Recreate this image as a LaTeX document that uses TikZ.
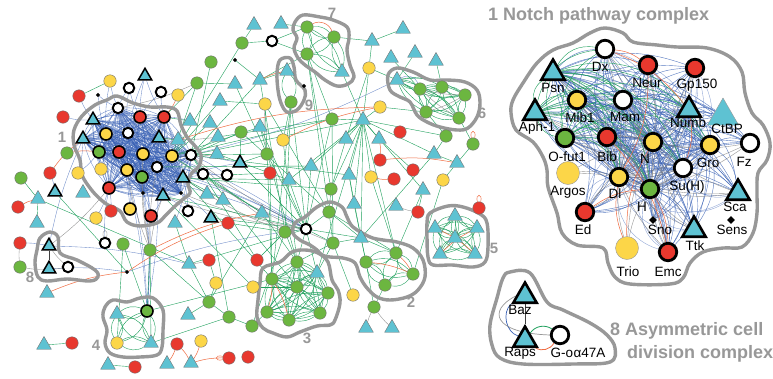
\documentclass[tikz,border=0pt]{standalone}
\usepackage{fontspec}
\setmainfont{Liberation Sans}
\usetikzlibrary{shapes.geometric}
\definecolor{ngreen}{RGB}{108,182,64}
\definecolor{nred}{RGB}{232,56,46}
\definecolor{nyellow}{RGB}{252,214,72}
\definecolor{ncyan}{RGB}{94,194,210}
\definecolor{hullgray}{RGB}{152,152,152}
\definecolor{eblue}{RGB}{58,98,182}
\definecolor{egreen}{RGB}{30,160,92}
\definecolor{eorange}{RGB}{240,108,66}
\definecolor{egray}{RGB}{125,125,125}
\pgfdeclarelayer{back}
\pgfdeclarelayer{edges}
\pgfdeclarelayer{hulls}
\pgfsetlayers{back,edges,hulls,main}
\tikzset{
  sm/.style={circle, draw=black!55, line width=0.4pt, minimum size=12.5pt, inner sep=0pt},
  gc/.style={sm, fill=ngreen},
  rc/.style={sm, fill=nred},
  yc/.style={sm, fill=nyellow},
  gk/.style={gc, draw=black, line width=1.6pt, minimum size=12pt},
  rk/.style={rc, draw=black, line width=1.6pt, minimum size=12pt},
  yk/.style={yc, draw=black, line width=1.6pt, minimum size=12pt},
  wc/.style={circle, draw=black, line width=2pt, fill=white, minimum size=10.5pt, inner sep=0pt},
  tri/.style={regular polygon, regular polygon sides=3, draw=black!55, line width=0.4pt, fill=ncyan, minimum size=17pt, inner sep=0pt},
  dtri/.style={tri, draw=black, line width=1.5pt, minimum size=15.5pt},
  dia/.style={diamond, fill=black, minimum size=4.5pt, inner sep=0pt},
  big/.style={circle, draw=black, line width=2.8pt, minimum size=17.5pt, inner sep=0pt},
  bgr/.style={big, fill=ngreen}, brd/.style={big, fill=nred}, byl/.style={big, fill=nyellow}, bwh/.style={big, fill=white},
  bpale/.style={circle, draw=black!40, line width=0.4pt, fill=nyellow, minimum size=23pt, inner sep=0pt},
  btri/.style={regular polygon, regular polygon sides=3, draw=black, line width=2.6pt, fill=ncyan, minimum size=27pt, inner sep=0pt},
  ptri/.style={regular polygon, regular polygon sides=3, draw=black!40, line width=0.4pt, fill=ncyan, minimum size=36pt, inner sep=0pt},
  bdia/.style={diamond, fill=black, minimum size=8pt, inner sep=0pt},
  lbl/.style={font=\fontsize{13.5}{14}\selectfont, inner sep=0pt},
  ttl/.style={font=\fontsize{18}{20}\selectfont\bfseries, text=hullgray, inner sep=0pt},
  num/.style={font=\fontsize{15}{16}\selectfont\bfseries, text=hullgray, inner sep=0pt},
  hull/.style={draw=hullgray, line width=3.4pt, line join=round},
  eb/.style={draw=eblue, line width=0.35pt, opacity=0.75},
  eg/.style={draw=egreen, line width=0.4pt},
  eo/.style={draw=eorange, line width=0.5pt},
  ey/.style={draw=egray, line width=0.4pt, opacity=0.8},
}
% every ordered pair of a list, bent, so each pair gives a lens
\newcommand{\netpairs}[3]{\foreach \pa in {#3}{\foreach \pb in {#3}{\ifx\pa\pb\else\draw[#1] (\pa) to[bend left=#2] (\pb);\fi}}}
\begin{document}
\begin{tikzpicture}[x=1pt,y=1pt]
\begin{pgfonlayer}{back}
\fill[white] (0,0) rectangle (773,-378);
\end{pgfonlayer}
\useasboundingbox (0,0) rectangle (773,-378);

% ---------------- whole network: complex 1 core
\node[wc] (c1) at (118,-108) {};
\node[rk] (c2) at (140,-117) {};
\node[rk] (c3) at (164,-117) {};
\node[dtri] (c4) at (93,-120) {};
\node[dtri] (c5) at (83,-139) {};
\node[yk] (c6) at (106,-134) {};
\node[wc] (c7) at (128,-133) {};
\node[dtri] (c8) at (159,-138) {};
\node[gk] (c9) at (99,-152) {};
\node[rk] (c10) at (119,-152) {};
\node[yk] (c11) at (143,-154) {};
\node[yk] (c12) at (172,-156) {};
\node[wc] (c13) at (191,-155) {};
\node[wc] (c14) at (157,-167) {};
\node[yk] (c15) at (127,-170) {};
\node[gk] (c16) at (142,-177) {};
\node[dtri] (c17) at (183,-178) {};
\node[rk] (c18) at (109,-188) {};
\node[dia] (c19) at (143,-193) {};
\node[dtri] (c20) at (163,-196) {};
\node[dia] (c21) at (181,-193) {};
% neighbours of complex 1
\node[yc] (a1) at (110,-81) {};
\node[wc] (a2) at (129,-88) {};
\node[dtri] (a3) at (145,-76) {};
\node[wc] (a4) at (161,-92) {};
\node[yc] (a5) at (178,-95) {};
\node[rc] (a6) at (79,-96) {};
\node[dia] (a7) at (98,-95) {};
\node[rc] (a8) at (63,-117) {};
\node[gc] (a9) at (67,-153) {};
\node[yc] (a10) at (78,-173) {};
\node[yc] (a11) at (101,-169) {};
\node[rc] (a12) at (50,-173) {};
\node[dtri] (a13) at (55,-192) {};
\node[tri] (a14) at (83,-193) {};
\node[gc] (a15) at (21,-178) {};
\node[tri] (a16) at (38,-199) {};
\node[wc] (a17) at (203,-174) {};
\node[wc] (a18) at (227,-175) {};
\node[dtri] (a19) at (240,-163) {};
\node[tri] (a20) at (190,-121) {};
\node[tri] (a21) at (210,-123) {};
\node[tri] (a22) at (218,-137) {};
\node[tri] (a23) at (178,-140) {};
\node[tri] (a24) at (217,-154) {};
\node[tri] (a25) at (207,-194) {};
\node[tri] (a26) at (223,-200) {};
\node[gc] (a27) at (197,-83) {};
\node[tri] (a28) at (235,-84) {};
\node[tri] (a29) at (220,-101) {};
\node[gc] (a30) at (241,-132) {};
\node[gc] (a31) at (211,-62) {};
\node[gc] (a32) at (242,-43) {};
\node[tri] (a33) at (254,-25) {};
\node[dia] (a34) at (235,-60) {};
\node[wc] (a37) at (188,-211) {};
\node[rk] (a38) at (151,-216) {};
\node[yk] (a39) at (130,-209) {};
\node[rc] (a40) at (111,-211) {};
\node[yc] (a41) at (96,-218) {};
\node[dtri] (a42) at (211,-218) {};
\node[rc] (a43) at (228,-223) {};
\node[tri] (a44) at (175,-223) {};
\node[rc] (a45) at (18,-207) {};
\node[tri] (a46) at (37,-223) {};
% lower left
\node[wc] (b1) at (105,-243) {};
\node[gc] (b2) at (123,-244) {};
\node[gc] (b3) at (150,-250) {};
\node[dia] (b4) at (127,-272) {};
\node[tri] (b5) at (189,-264) {};
\node[rc] (b6) at (209,-260) {};
\node[yc] (b7) at (216,-283) {};
\node[gc] (b8) at (209,-302) {};
\node[tri] (b9) at (188,-315) {};
\node[gc] (b10) at (229,-317) {};
\node[gc] (b11) at (252,-326) {};
\node[yc] (b12) at (253,-287) {};
\node[rc] (b13) at (257,-260) {};
\node[tri] (b14) at (44,-345) {};
\node[rc] (b15) at (72,-343) {};
\node[tri] (b16) at (108,-365) {};
\node[rc] (b17) at (135,-367) {};
\node[rc] (b18) at (177,-344) {};
\node[yc] (b19) at (201,-341) {};
\node[tri] (b20) at (167,-364) {};
\node[tri] (b21) at (191,-363) {};
\node[rc] (b22) at (229,-358) {};
\node[rc] (b23) at (248,-357) {};
% complex 8
\node[dtri] (e1) at (49,-246) {};
\node[dtri] (e2) at (49,-269) {};
\node[wc] (e3) at (68,-267) {};
\node[rc] (e4) at (20,-243) {};
\node[gc] (e5) at (20,-267) {};
\node[tri] (e6) at (47,-293) {};
% complex 4
\node[gk] (f1) at (147,-311) {};
\node[tri] (f2) at (117,-314) {};
\node[yc] (f3) at (117,-343) {};
\node[tri] (f4) at (151,-343) {};
% upper middle
\node[tri] (g1) at (281,-24) {};
\node[wc] (g2) at (272,-41) {};
\node[tri] (g3) at (260,-80) {};
\node[yc] (g4) at (265,-104) {};
\node[tri] (g5) at (260,-127) {};
\node[yc] (g6) at (283,-140) {};
\node[gc] (g7) at (267,-154) {};
\node[rc] (g8) at (270,-173) {};
\node[tri] (g9) at (289,-180) {};
\node[tri] (g10) at (311,-166) {};
\node[gc] (g11) at (331,-189) {};
\node[tri] (g12) at (349,-175) {};
\node[gc] (g13) at (332,-119) {};
\node[tri] (g14) at (363,-120) {};
\node[tri] (g15) at (346,-139) {};
\node[tri] (g16) at (379,-139) {};
\node[yc] (g17) at (380,-107) {};
\node[rc] (g18) at (400,-132) {};
\node[rc] (g19) at (380,-160) {};
\node[rc] (g20) at (394,-179) {};
\node[rc] (g21) at (413,-170) {};
\node[yc] (g22) at (371,-177) {};
\node[tri] (g23) at (372,-41) {};
\node[tri] (g24) at (403,-29) {};
\node[yc] (g25) at (369,-68) {};
\node[tri] (g26) at (391,-58) {};
\node[tri] (g27) at (415,-53) {};
\node[tri] (g28) at (436,-61) {};
\node[gc] (g29) at (446,-136) {};
\node[gc] (g30) at (473,-144) {};
\node[tri] (g31) at (434,-154) {};
\node[tri] (g32) at (457,-163) {};
\node[yc] (g33) at (443,-180) {};
\node[tri] (g34) at (423,-190) {};
\node[tri] (g35) at (396,-206) {};
\node[rc] (g36) at (418,-212) {};
\node[tri] (g37) at (354,-204) {};
\node[tri] (g38) at (262,-213) {};
% complexes 7 and 9
\node[gc] (h1) at (307,-27) {};
\node[gc] (h2) at (334,-37) {};
\node[gc] (h3) at (307,-54) {};
\node[tri] (h4) at (342,-72) {};
\node[tri] (i1) at (287,-71) {};
\node[gc] (i2) at (291,-102) {};
\node[dia] (i3) at (304,-86) {};
% complex 6
\node[tri] (j1) at (397,-80) {};
\node[gc] (j2) at (420,-89) {};
\node[gc] (j3) at (442,-87) {};
\node[gc] (j4) at (465,-95) {};
\node[gc] (j5) at (426,-112) {};
\node[gc] (j6) at (459,-118) {};
% complex 2
\node[wc] (k1) at (306,-229) {};
\node[gc] (k2) at (329,-212) {};
\node[gc] (k3) at (333,-243) {};
\node[tri] (k4) at (361,-238) {};
\node[gc] (k5) at (366,-262) {};
\node[gc] (k6) at (396,-253) {};
\node[gc] (k7) at (413,-274) {};
\node[gc] (k8) at (385,-285) {};
\node[gc] (k9) at (285,-232) {};
\node[yc] (k10) at (353,-295) {};
\node[gc] (k11) at (374,-307) {};
\node[tri] (k12) at (366,-328) {};
\node[tri] (k13) at (392,-328) {};
% complex 3
\node[gc] (l1) at (297,-262) {};
\node[gc] (l2) at (272,-279) {};
\node[gc] (l3) at (297,-287) {};
\node[gc] (l4) at (328,-293) {};
\node[gc] (l5) at (267,-312) {};
\node[gc] (l6) at (289,-320) {};
\node[gc] (l7) at (320,-313) {};
\node[tri] (l8) at (317,-273) {};
% complex 5
\node[tri] (m1) at (455,-216) {};
\node[tri] (m2) at (435,-228) {};
\node[tri] (m3) at (477,-228) {};
\node[tri] (m4) at (455,-238) {};
\node[tri] (m5) at (440,-254) {};
\node[tri] (m6) at (475,-254) {};
\node[rc] (m7) at (479,-208) {};

% ---------------- Notch pathway complex
\node[bwh] (dx) at (605,-49) {};
\node[brd] (neur) at (648,-65) {};
\node[brd] (gp) at (695,-68) {};
\node[btri] (psn) at (553,-73) {};
\node[byl] (mib) at (577,-100) {};
\node[bwh] (mam) at (623,-100) {};
\node[btri] (numb) at (689,-110) {};
\node[ptri] (ctbp) at (723,-116) {};
\node[btri] (aph) at (535,-113) {};
\node[bgr] (ofut) at (565,-138) {};
\node[brd] (bib) at (607,-137) {};
\node[byl] (nn) at (653,-142) {};
\node[byl] (gro) at (710,-145) {};
\node[bwh] (fz) at (750,-143) {};
\node[bpale] (argos) at (568,-173) {};
\node[bwh] (suh) at (683,-168) {};
\node[byl] (dl) at (619,-177) {};
\node[bgr] (hh) at (650,-189) {};
\node[btri] (sca) at (738,-193) {};
\node[brd] (ed) at (585,-212) {};
\node[bdia] (sno) at (653,-220) {};
\node[btri] (ttk) at (694,-230) {};
\node[bdia] (sens) at (731,-220) {};
\node[bpale] (trio) at (627,-248) {};
\node[brd] (emc) at (668,-252) {};
\node[lbl] (ldx) at (600,-67) {Dx};
\node[lbl] (lneur) at (647,-83) {Neur};
\node[lbl] (lgp) at (697,-85) {Gp150};
\node[lbl] (lpsn) at (553,-88) {Psn};
\node[lbl] (lmib) at (580,-118) {Mib1};
\node[lbl] (lmam) at (625,-117) {Mam};
\node[lbl] (lnumb) at (688,-123) {Numb};
\node[lbl] (lctbp) at (727,-129) {CtBP};
\node[lbl] (laph) at (537,-128) {Aph-1};
\node[lbl] (lofut) at (567,-157) {O-fut1};
\node[lbl] (lbib) at (607,-157) {Bib};
\node[lbl] (lnn) at (645,-159) {N};
\node[lbl] (lgro) at (708,-163) {Gro};
\node[lbl] (lfz) at (744,-162) {Fz};
\node[lbl] (largos) at (568,-192) {Argos};
\node[lbl] (lsuh) at (687,-187) {Su(H)};
\node[lbl] (ldl) at (615,-194) {Dl};
\node[lbl] (lhh) at (642,-207) {H};
\node[lbl] (lsca) at (735,-207) {Sca};
\node[lbl] (led) at (583,-230) {Ed};
\node[lbl] (lsno) at (660,-230) {Sno};
\node[lbl] (lttk) at (695,-246) {Ttk};
\node[lbl] (lsens) at (732,-230) {Sens};
\node[lbl] (ltrio) at (628,-272) {Trio};
\node[lbl] (lemc) at (668,-272) {Emc};

% ---------------- asymmetric cell division complex
\node[btri] (baz) at (525,-296) {};
\node[btri] (raps) at (525,-340) {};
\node[bwh] (goa) at (560,-335) {};
\node[lbl] (lbaz) at (520,-310) {Baz};
\node[lbl] (lraps) at (520,-353) {Raps};
\node[lbl] (lgoa) at (578,-353) {G-o\kern0.5pt α47A};

% ---------------- titles and complex numbers
\node[ttl, anchor=base west] (tnotch) at (488,-20) {1 Notch pathway complex};
\node[ttl, anchor=base west] (tasym1) at (610,-335) {8 Asymmetric cell};
\node[ttl, anchor=base west] (tasym2) at (627,-358) {division complex};
\node[num] (n1) at (62,-137) {1};
\node[num] (n2) at (411,-302) {2};
\node[num] (n3) at (307,-338) {3};
\node[num] (n4) at (96,-345) {4};
\node[num] (n5) at (494,-248) {5};
\node[num] (n6) at (482,-113) {6};
\node[num] (n7) at (332,-13) {7};
\node[num] (n8) at (30,-277) {8};
\node[num] (n9) at (309,-105) {9};

% ---------------- hulls round the complexes
\begin{pgfonlayer}{hulls}
\draw[hull] plot[smooth cycle, tension=0.6] coordinates {(107,-100) (117,-96) (133,-103) (150,-107) (167,-107) (177,-111) (181,-125) (187,-137) (195,-146) (201,-155) (199,-166) (191,-174) (188,-184) (190,-193) (182,-200) (174,-207) (165,-216) (157,-223) (140,-226) (127,-222) (120,-211) (108,-205) (99,-198) (90,-188) (82,-175) (80,-160) (74,-145) (74,-130) (82,-116) (95,-105)};
\draw[hull] plot[smooth cycle, tension=0.6] coordinates {(295,-22) (303,-15) (320,-17) (333,-20) (347,-27) (349,-38) (347,-50) (350,-65) (354,-77) (348,-84) (337,-86) (325,-80) (315,-72) (305,-65) (298,-58) (294,-48) (297,-38) (293,-30)};
\draw[hull] plot[smooth cycle, tension=0.6] coordinates {(280,-60) (290,-58) (294,-67) (296,-80) (305,-90) (304,-100) (297,-110) (287,-112) (281,-103) (278,-90) (277,-73)};
\draw[hull] plot[smooth cycle, tension=0.6] coordinates {(388,-75) (397,-68) (413,-72) (430,-80) (447,-80) (465,-82) (477,-90) (480,-103) (477,-117) (468,-128) (457,-130) (440,-127) (427,-122) (417,-115) (410,-102) (400,-97) (390,-90)};
\draw[hull] plot[smooth cycle, tension=0.6] coordinates {(430,-213) (448,-206) (463,-207) (480,-214) (487,-223) (488,-247) (485,-262) (473,-267) (452,-265) (433,-265) (428,-257) (427,-237) (427,-223)};
\draw[hull] plot[smooth cycle, tension=0.6] coordinates {(295,-223) (305,-217) (317,-207) (330,-202) (342,-207) (347,-217) (353,-227) (370,-237) (383,-240) (397,-242) (413,-248) (423,-260) (425,-277) (418,-290) (407,-297) (390,-300) (377,-297) (367,-288) (360,-277) (355,-263) (343,-258) (330,-257) (322,-255) (317,-250) (310,-245) (300,-240) (293,-233)};
\draw[hull] plot[smooth cycle, tension=0.6] coordinates {(263,-268) (280,-262) (292,-252) (305,-250) (318,-253) (328,-262) (332,-280) (338,-290) (340,-303) (335,-320) (330,-325) (317,-326) (300,-332) (287,-337) (273,-333) (263,-328) (257,-317) (258,-300) (260,-283)};
\draw[hull] plot[smooth cycle, tension=0.6] coordinates {(105,-307) (113,-300) (127,-302) (140,-298) (153,-298) (163,-310) (163,-330) (162,-347) (157,-355) (140,-357) (123,-357) (110,-353) (105,-343) (107,-330) (103,-317)};
\draw[hull] plot[smooth cycle, tension=0.6] coordinates {(40,-238) (50,-232) (58,-237) (60,-253) (77,-260) (95,-270) (98,-277) (90,-281) (67,-279) (47,-281) (38,-277) (35,-263) (37,-250)};
\draw[hull] plot[smooth cycle, tension=0.6] coordinates {(590,-33) (605,-28) (623,-33) (633,-42) (657,-45) (677,-47) (707,-48) (730,-57) (742,-72) (745,-93) (752,-113) (763,-125) (770,-143) (767,-160) (758,-173) (757,-193) (757,-213) (753,-233) (742,-247) (723,-248) (703,-252) (690,-263) (683,-278) (670,-284) (630,-284) (615,-277) (608,-263) (603,-248) (577,-245) (562,-233) (557,-213) (548,-187) (547,-170) (543,-157) (533,-142) (516,-130) (511,-113) (513,-100) (523,-83) (537,-63) (553,-50) (573,-43)};
\draw[hull] plot[smooth cycle, tension=0.6] coordinates {(510,-272) (530,-273) (547,-302) (563,-310) (590,-323) (607,-335) (615,-348) (610,-362) (573,-364) (523,-364) (500,-358) (492,-345) (490,-325) (497,-298) (503,-278)};
\end{pgfonlayer}

% ---------------- interactions
\begin{pgfonlayer}{edges}
% inside the complexes
\netpairs{eb}{12}{c1,c2,c3,c4,c5,c6,c7,c8,c9,c10,c11,c12,c13,c14,c15,c16,c17,c18,c19,c20,c21}
\netpairs{eg}{25}{h1,h2,h3,h4}
\netpairs{eg}{20}{j1,j2,j3,j4,j5,j6}
\netpairs{eg}{25}{m1,m2,m3,m4,m5,m6}
\netpairs{eg}{30}{k5,k6,k7,k8}
\netpairs{eg}{20}{l1,l2,l3,l4,l5,l6,l7,l8}
\netpairs{eg}{30}{f1,f2,f3,f4}
\netpairs{eg}{35}{i1,i2}
% blue
\foreach \pa/\pb in {c4/a6,c4/a8,c1/a7,c6/a7,c1/a1,c6/a1,c1/a2,c7/a2,c2/a2,c2/a3,c3/a3,c7/a3,c3/a4,c2/a4,
  c12/a17,c13/a17,c14/a17,c17/a18,c13/a18,c17/a19,c12/a19,c18/a41,c18/a40,c15/a39,c10/a39,c16/a38,c20/a38,
  c19/a38,c20/a37,c21/a37,c17/a37,c21/a42,c5/a9,c9/a10,c5/a10,c6/a11,c9/a11,c10/a11,c16/f1,c15/f1,c11/f1,
  c14/f1,c10/f1,c19/f1,c16/k1,c14/k1,c12/k1,c17/k1,c11/k1,c13/a44,e1/c5,e2/b4,e1/b5,b1/c18,e4/e1,a12/a13,
  b4/k1,c7/a23,c8/a23,c3/a20,j1/c13}
  {\draw[eb] (\pa) to[bend left=6] (\pb);}
\draw[eb] (j1) to[bend left=50] (j2);
% grey
\foreach \pa/\pb in {c16/b3,c15/b3,c14/b3,c20/b3,c11/b3,c21/k1,c13/k1,c20/k1,c17/k9,c13/k9,c12/k3,e1/c18,
  e4/e5,e5/e2,e2/e3,e1/e3,b5/b6,g35/g36,k11/k12,k11/k13,g4/g7,j2/j6,j5/j4,j2/j4,c1/a27,c8/a22,c12/a24}
  {\draw[ey] (\pa) to[bend right=6] (\pb);}
\draw[draw=black!75, line width=0.5pt] (e1) -- (e2);
% green
\foreach \pa/\pb in {a6/a1,a15/a16,a16/a46,a13/b4,a33/a32,a32/c12,a31/c13,a27/c3,a27/c12,a28/a27,a34/g3,
  a29/c12,a20/c3,a21/c12,a22/c13,a23/c8,a24/c13,a25/c17,a26/c17,a30/c13,a30/a19,c13/g3,c12/g5,c13/g7,
  c17/g9,c14/g10,c12/g13,c13/g14,c17/g11,c13/g12,c20/k1,a19/g7,a18/g8,a17/g38,a42/k1,a43/k9,g1/h1,g2/h1,
  g2/h3,g3/h3,g23/h2,g23/g25,g24/g23,h4/g14,h3/g13,h3/k2,i1/g3,i2/k9,i2/g6,g25/g14,g25/g15,g17/g14,
  g13/g14,g14/g15,g14/g16,g14/g11,g14/g9,g14/g10,g14/g12,g14/k4,g14/k6,g14/g34,g14/l8,g14/g37,g14/g22,
  g14/g31,g16/g21,g15/g11,g12/g37,g37/k5,g22/k6,j2/g26,j3/g28,j1/g27,j5/g17,j5/g29,j6/g30,j1/g25,
  g29/g31,g31/g32,g31/k4,g32/g33,g34/g36,g30/g32,g29/g14,g34/k6,k1/k2,k1/k3,k1/k9,k1/k4,k2/k3,k2/k4,
  k3/k4,k3/l8,k3/l1,k11/k5,k11/k8,k10/k3,k1/l1,k1/l8,k9/l1,g5/k1,g7/k1,g9/k1,g10/k1,g13/k1,g11/k2,
  g12/k4,g4/l2,g6/l1,f1/l2,f4/b10,b2/f1,b3/f1,b3/f4,b2/f3,b8/b9,b8/b10,b10/b11,b11/l5,b14/b15,b16/b17,
  b12/l3,b13/k9,a16/b5,a44/b5,b5/k1,g8/l2,g38/l1,b6/b7,b7/b8,g33/k7,b3/b8,i2/k1,k4/k5,k4/k6,k2/k6,
  c13/l3,c17/l2,c12/g38,a30/k2,a19/k1,g5/l1,g3/k9,g13/k3,h3/g11,i2/l2,a28/g7,a29/g4,a32/g2,
  c13/b13,c20/b12,a42/b10,g38/b8,b5/b8,k9/b11,a24/g9,a22/g13,g4/k2}
  {\draw[eg] (\pa) -- (\pb);}
% orange
\foreach \pa/\pb in {a12/c5,a5/c3,a45/a16,a9/c9,a23/g17,g3/i1,g6/g17,g16/g19,g19/g32,g20/g22,e6/b4,
  b4/a43,b3/g38,b18/b20,b18/b21,b19/b21,b21/b22,k6/k7,k5/k7,l2/l5,l2/l6,m2/m6,m5/m3}
  {\draw[eo] (\pa) to[bend left=8] (\pb);}
\draw[eo] (h1) to[bend left=50] (h2);
\draw[eo] (b22) to[loop left, min distance=9pt] (b22);
\draw[eo] (g30) to[loop above, min distance=9pt] (g30);
\draw[eo] (m7) to[loop above, min distance=9pt] (m7);
\draw[ey] (b1) to[loop above, min distance=9pt] (b1);

% Notch complex interactions
\foreach \pa in {nn,dl,hh,suh,mam,bib,mib,psn,numb,gro}{
  \foreach \pb in {dx,neur,gp,psn,mib,mam,numb,ctbp,aph,ofut,bib,nn,gro,fz,suh,dl,hh,sca,ed,sno,ttk,emc}{
    \ifx\pa\pb\else\draw[eb, line width=0.4pt, opacity=0.85] (\pa) to[bend left=22] (\pb);\fi}}
\foreach \pa in {nn,dl,hh,suh}{
  \foreach \pb in {dx,neur,gp,psn,mib,mam,numb,aph,ofut,bib,gro,sca,ed,ttk,emc}{
    \ifx\pa\pb\else\draw[eb, opacity=0.6] (\pa) to[bend right=40] (\pb);\fi}}
\foreach \pa in {nn,dl,hh}{
  \foreach \pb in {dx,neur,gp,psn,mib,mam,numb,aph,ofut,bib,gro,fz,suh,sca,ed,ttk,emc,trio,argos}{
    \ifx\pa\pb\else\draw[ey] (\pa) to[bend right=10] (\pb);\fi}}
\foreach \pa in {psn,aph,ofut}{
  \foreach \pb in {nn,dl,hh,gro,suh,mam,bib,mib,dx,numb}{
    \ifx\pa\pb\else\draw[eg] (\pa) to[bend left=35] (\pb);\fi}}
\foreach \pa/\pb in {psn/aph,aph/ofut,psn/ofut,aph/mib}
  {\draw[eg] (\pa) to[bend right=30] (\pb);}
\foreach \pa/\pb in {dx/numb,dx/neur,trio/nn,trio/dl,hh/emc,bib/emc,neur/dl,numb/suh,ed/hh}
  {\draw[eo] (\pa) to[bend left=15] (\pb);}

% asymmetric cell division complex
\draw[draw=black!75, line width=0.6pt] (baz) -- (raps);
\draw[eb, line width=0.7pt, opacity=1] (baz) to[bend right=60] (raps);
\draw[ey, line width=0.7pt] (baz.west) .. controls (488,-310) and (492,-333) .. (goa.west);
\draw[eg, line width=0.8pt] (raps) to[bend left=45] (goa);
\draw[eo, line width=0.8pt] (raps) to[bend right=45] (goa);
\end{pgfonlayer}
\end{tikzpicture}
\end{document}
